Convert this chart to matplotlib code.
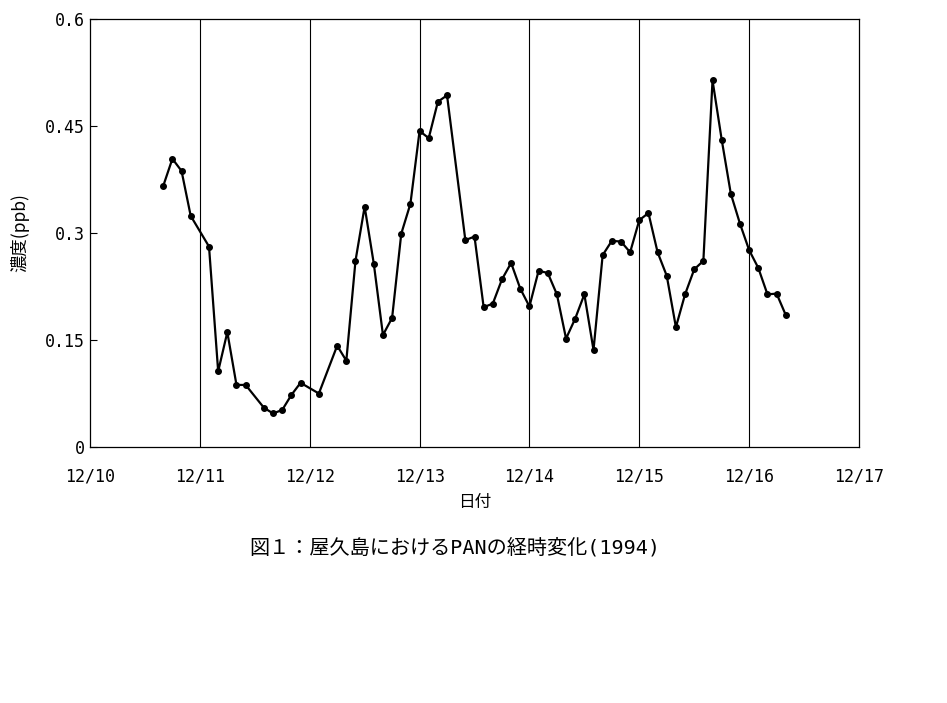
import numpy as np   #for arrays
import matplotlib
matplotlib.use("Agg")
import matplotlib.pyplot as plt  #for plotting

#time of each sample, hours since 12/10 0:00
hours = [16, 18, 20, 22, 26, 28, 30, 32, 34, 38, 40, 42, 44, 46, 50,
         54, 56, 58, 60, 62, 64, 66, 68, 70, 72, 74, 76, 78,
         82, 84, 86, 88, 90, 92, 94, 96, 98, 100, 102, 104, 106, 108,
         110, 112, 114, 116, 118, 120, 122, 124, 126, 128, 130, 132,
         134, 136, 138, 140, 142, 144, 146, 148, 150, 152]

#PAN concentration (ppb)
pan = [0.366, 0.404, 0.387, 0.324, 0.281, 0.106, 0.161, 0.087, 0.087,
       0.055, 0.047, 0.052, 0.073, 0.090, 0.075,
       0.142, 0.121, 0.261, 0.337, 0.257, 0.157, 0.181, 0.299, 0.341,
       0.443, 0.433, 0.484, 0.493,
       0.290, 0.295, 0.196, 0.201, 0.235, 0.258, 0.222, 0.197, 0.247,
       0.244, 0.214, 0.152, 0.180, 0.214, 0.136, 0.269, 0.289, 0.288,
       0.273, 0.318, 0.328, 0.273, 0.240, 0.168, 0.214, 0.249, 0.261,
       0.514, 0.431, 0.355, 0.313, 0.276, 0.251, 0.214, 0.215, 0.185]

#axis labels
day_labels = ["12/10", "12/11", "12/12", "12/13", "12/14", "12/15", "12/16", "12/17"]
y_ticks = [0, 0.15, 0.3, 0.45, 0.6]
y_tick_labels = ["0", "0.15", "0.3", "0.45", "0.6"]

mono = ["DejaVu Sans Mono", "Noto Sans CJK JP"]
jp = ["Noto Sans CJK JP", "DejaVu Sans"]

days = 10 + np.array(hours) / 24.0

fig = plt.figure(figsize=(9.47, 7.03), dpi=100)
ax = fig.add_axes([90/947, 1-447/703, (859-90)/947, (447-19)/703])

#day grid lines
for d in range(11, 17):
    ax.axvline(d, color="black", linewidth=0.8)

ax.plot(days, pan, color="black", linewidth=1.6, marker="o", markersize=4)

ax.set_xlim(10, 17)
ax.set_ylim(0, 0.6)
ax.set_xticks(range(10, 18))
ax.set_xticklabels(day_labels, family=mono, fontsize=12)
ax.set_yticks(y_ticks)
ax.set_yticklabels(y_tick_labels, family=mono, fontsize=12)
ax.tick_params(axis="x", length=0, pad=15)
ax.tick_params(axis="y", direction="in", length=5, pad=4)
for s in ax.spines.values():
    s.set_linewidth(0.9)

ax.set_xlabel("日付", family=jp, fontsize=12, labelpad=6)
ax.set_ylabel("濃度(ppb)", family=jp, fontsize=12.5, labelpad=11)

#caption under the chart
fig.text(455/947, 1-548/703, "図１：屋久島におけるPANの経時変化(1994)",
         family=mono, fontsize=14.5, ha="center", va="center")

fig.savefig("out.png", dpi=100)
